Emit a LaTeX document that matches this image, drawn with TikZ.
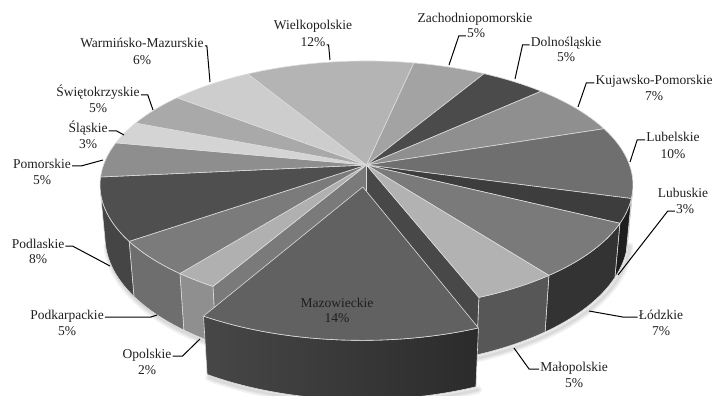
\documentclass[tikz,border=0pt]{standalone}
\usepackage{fontspec}
\setmainfont{Liberation Serif}
\definecolor{edgec}{HTML}{DCDCDC}
\definecolor{cWiel}{HTML}{B4B4B4}
\definecolor{cZach}{HTML}{A3A3A3}
\definecolor{cDol}{HTML}{4B4B4B}
\definecolor{cKuj}{HTML}{8F8F8F}
\definecolor{cLubel}{HTML}{6F6F6F}
\definecolor{cLubus}{HTML}{3D3D3D}
\definecolor{cLodz}{HTML}{7A7A7A}
\definecolor{cMalo}{HTML}{B2B2B2}
\definecolor{cMazo}{HTML}{616161}
\definecolor{cOpol}{HTML}{B0B0B0}
\definecolor{cPodk}{HTML}{7B7B7B}
\definecolor{cPodl}{HTML}{4F4F4F}
\definecolor{cPom}{HTML}{8E8E8E}
\definecolor{cSl}{HTML}{D4D4D4}
\definecolor{cSw}{HTML}{A9A9A9}
\definecolor{cWM}{HTML}{CDCDCD}
\definecolor{wLubel}{HTML}{2A2A2A}
\definecolor{wLubus}{HTML}{1E1E1E}
\definecolor{wLodz}{HTML}{333333}
\definecolor{wMalo}{HTML}{575757}
\definecolor{wOpol}{HTML}{8F8F8F}
\definecolor{wPodk}{HTML}{6E6E6E}
\definecolor{wPodl}{HTML}{454545}
\definecolor{rOpolW}{HTML}{7A7A7A}
\definecolor{rMaloW}{HTML}{484848}
\definecolor{mzL}{HTML}{474747}
\definecolor{mzR}{HTML}{2B2B2B}
\def\T{0.2247}
\def\ox{-0.0136}
\def\oy{0.1765}
\newcommand\topslice[3]{%
  \path[fill=#3, edge] (366.5,165) -- plot[domain=#1:#2, samples=40, variable=\ang]
    ({PX(cos(\ang),sin(\ang),0)},{PY(cos(\ang),sin(\ang),0)}) -- cycle;}
\newcommand\wallslice[3]{%
  \path[fill=#3, edge] plot[domain=#1:#2, samples=30, variable=\ang]
    ({PX(cos(\ang),sin(\ang),0)},{PY(cos(\ang),sin(\ang),0)})
    -- plot[domain=#2:#1, samples=30, variable=\ang]
    ({PX(cos(\ang),sin(\ang),\T)},{PY(cos(\ang),sin(\ang),\T)}) -- cycle;}
\newcommand\radialwall[2]{%
  \path[fill=#2, edge] (366.5,165)
    -- ({PX(cos(#1),sin(#1),0)},{PY(cos(#1),sin(#1),0)})
    -- ({PX(cos(#1),sin(#1),\T)},{PY(cos(#1),sin(#1),\T)})
    -- ({PX(0,0,\T)},{PY(0,0,\T)}) -- cycle;}
\newcommand\softshadow[1]{%
  \draw[line width=#1, black, opacity=0.05, line cap=round, shift={(2,3)}]
    plot[domain=11.8:168.2, samples=60, variable=\ang]
    ({PX(cos(\ang),sin(\ang),\T)},{PY(cos(\ang),sin(\ang),\T)});
  \draw[line width=#1, black, opacity=0.05, line cap=round, shift={(2,3)}]
    plot[domain=68.7:120.15, samples=40, variable=\ang]
    ({PX(cos(\ang)+\ox,sin(\ang)+\oy,\T)},{PY(cos(\ang)+\ox,sin(\ang)+\oy,\T)});}
\begin{document}
\begin{tikzpicture}[x=1pt,y=-1pt,
  declare function={dn(\xb,\xc)=1+0.08325*\xc-0.161*\xb;
    PX(\xa,\xb,\xc)=366.5+263*\xa/dn(\xb,\xc);
    PY(\xa,\xb,\xc)=165+(120.8*\xb+233.6*\xc)/dn(\xb,\xc);},
  lbl/.style={font=\fontsize{13.5}{16}\selectfont, inner sep=1pt, text=black!88, anchor=base},
  edge/.style={draw=edgec, line width=0.6pt, line join=round},
  lead/.style={draw=black, line width=1pt}]
\useasboundingbox (0,0) rectangle (716,396);
% soft shadow
\softshadow{8pt}
\softshadow{5pt}
\softshadow{2.5pt}
% outer walls
\wallslice{11.8}{15.4}{wLubel}
\wallslice{15.4}{26.6}{wLubus}
\wallslice{26.6}{52.8}{wLodz}
\wallslice{52.8}{68.7}{wMalo}
\wallslice{120.15}{128.3}{wOpol}
\wallslice{128.3}{145.0}{wPodk}
\wallslice{145.0}{168.2}{wPodl}
% radial walls in the gap
\radialwall{120.15}{rOpolW}
\radialwall{68.7}{rMaloW}
% top faces
\topslice{-78.0}{-59.4}{cZach}
\topslice{-59.4}{-42.6}{cDol}
\topslice{-42.6}{-18.4}{cKuj}
\topslice{-18.4}{15.4}{cLubel}
\topslice{15.4}{26.6}{cLubus}
\topslice{26.6}{52.8}{cLodz}
\topslice{52.8}{68.7}{cMalo}
\topslice{120.15}{128.3}{cOpol}
\topslice{128.3}{145.0}{cPodk}
\topslice{145.0}{174.4}{cPodl}
\topslice{174.4}{190.9}{cPom}
\topslice{190.9}{201.6}{cSl}
\topslice{201.6}{217.7}{cSw}
\topslice{217.7}{239.1}{cWM}
\topslice{239.1}{282.0}{cWiel}
% exploded Mazowieckie
\path[edge, left color=mzL, right color=mzR] plot[domain=68.7:120.15, samples=40, variable=\ang]
    ({PX(cos(\ang)+\ox,sin(\ang)+\oy,0)},{PY(cos(\ang)+\ox,sin(\ang)+\oy,0)})
    -- plot[domain=120.15:68.7, samples=40, variable=\ang]
    ({PX(cos(\ang)+\ox,sin(\ang)+\oy,\T)},{PY(cos(\ang)+\ox,sin(\ang)+\oy,\T)}) -- cycle;
\path[fill=cMazo, edge] ({PX(\ox,\oy,0)},{PY(\ox,\oy,0)})
    -- plot[domain=68.7:120.15, samples=40, variable=\ang]
    ({PX(cos(\ang)+\ox,sin(\ang)+\oy,0)},{PY(cos(\ang)+\ox,sin(\ang)+\oy,0)}) -- cycle;
% labels
\node[lbl] (wielN) at (313,30) {Wielkopolskie};
\node[lbl] (wielP) at (313,47) {12\%};
\node[lbl] (zachN) at (475,23) {Zachodniopomorskie};
\node[lbl] (zachP) at (476,38) {5\%};
\node[lbl] (dolN) at (566,47) {Dolnośląskie};
\node[lbl] (dolP) at (566,62) {5\%};
\node[lbl] (kujN) at (654,85) {Kujawsko-Pomorskie};
\node[lbl] (kujP) at (654,101) {7\%};
\node[lbl] (lubelN) at (673,142) {Lubelskie};
\node[lbl] (lubelP) at (673,158) {10\%};
\node[lbl] (lubusN) at (683,197) {Lubuskie};
\node[lbl] (lubusP) at (685,213) {3\%};
\node[lbl] (lodzN) at (661,319) {Łódzkie};
\node[lbl] (lodzP) at (661,335) {7\%};
\node[lbl] (maloN) at (574,371) {Małopolskie};
\node[lbl] (maloP) at (574,387) {5\%};
\node[lbl] (mazoN) at (337,307) {Mazowieckie};
\node[lbl] (mazoP) at (337,322) {14\%};
\node[lbl] (opolN) at (147,358) {Opolskie};
\node[lbl] (opolP) at (147,374) {2\%};
\node[lbl] (podkN) at (67,319) {Podkarpackie};
\node[lbl] (podkP) at (67,335) {5\%};
\node[lbl] (podlN) at (38,248) {Podlaskie};
\node[lbl] (podlP) at (38,263) {8\%};
\node[lbl] (pomN) at (42,168) {Pomorskie};
\node[lbl] (pomP) at (42,184) {5\%};
\node[lbl] (slN) at (88,133) {Śląskie};
\node[lbl] (slP) at (88,149) {3\%};
\node[lbl] (swN) at (98,97) {Świętokrzyskie};
\node[lbl] (swP) at (98,113) {5\%};
\node[lbl] (wmN) at (142,48) {Warmińsko-Mazurskie};
\node[lbl] (wmP) at (142,65) {6\%};
% leader end points
\coordinate (rWiel) at (330,60);
\coordinate (rZach) at (449,65);
\coordinate (rDol) at (515,79);
\coordinate (rKuj) at (578,107);
\coordinate (rLubel) at (630,162);
\coordinate (rLubus) at (618,275);
\coordinate (rLodz) at (589,311);
\coordinate (rMalo) at (514,348);
\coordinate (rOpol) at (200,339);
\coordinate (rPodk) at (157,315);
\coordinate (rPodl) at (110,266);
\coordinate (rPom) at (103,160);
\coordinate (rSl) at (124,135);
\coordinate (rSw) at (153,110);
\coordinate (rWM) at (210,82);
% leaders
\draw[lead] ([yshift=2pt]wielP.base east) -- ++(2,0) -- (rWiel);
\draw[lead] ([yshift=2pt]zachP.base west) -- ++(-7,0) -- (rZach);
\draw[lead] ([yshift=2pt]dolN.base west) -- ++(-7,0) -- (rDol);
\draw[lead] ([yshift=2pt]kujN.base west) -- ++(-8,0) -- (rKuj);
\draw[lead] ([yshift=2pt]lubelN.base west) -- ++(-8,0) -- (rLubel);
\draw[lead] ([yshift=2pt]lubusP.base west) -- ++(-7,0) -- (rLubus);
\draw[lead] ([yshift=2pt]lodzN.base west) -- ++(-15,0) -- (rLodz);
\draw[lead] ([yshift=2pt]maloN.base west) -- ++(-10,0) -- (rMalo);
\draw[lead] ([yshift=2pt]opolN.base east) -- ++(10,0) -- (rOpol);
\draw[lead] ([yshift=2pt]podkN.base east) -- ++(46,0) -- (rPodk);
\draw[lead] ([yshift=2pt]podlN.base east) -- ++(7,0) -- (rPodl);
\draw[lead] ([yshift=2pt]pomN.base east) -- ++(9,0) -- (rPom);
\draw[lead] ([yshift=2pt]slN.base east) -- ++(8,0) -- (rSl);
\draw[lead] ([yshift=2pt]swN.base east) -- ++(7,0) -- (rSw);
\draw[lead] ([yshift=2pt]wmN.base east) -- ++(2,0) -- (rWM);
\end{tikzpicture}
\end{document}
